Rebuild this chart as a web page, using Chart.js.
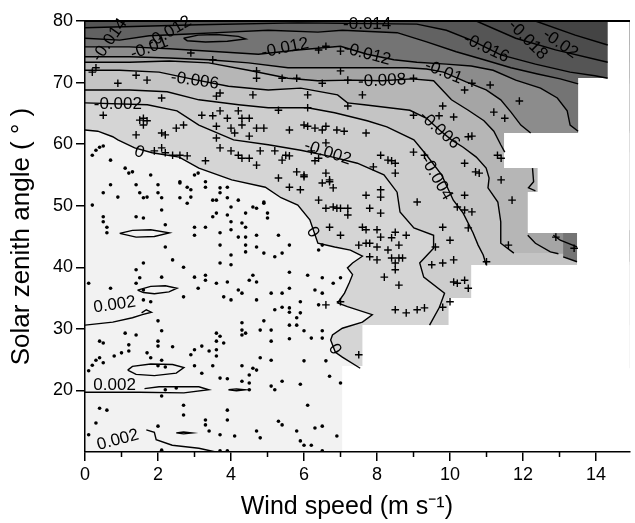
<!DOCTYPE html>
<html>
<head>
<meta charset="utf-8">
<script src="https://cdn.jsdelivr.net/npm/chart.js@4.4.1/dist/chart.umd.min.js"></script>
<style>
  body { margin: 0; background: #fff; }
  canvas { display: block; }
</style>
</head>
<body>
<canvas id="contour-chart" width="635" height="523"></canvas>
<script>
const family = "Arial, 'Liberation Sans', Helvetica, sans-serif";
const xMax = 14.92;

// outline of the gridded field (stair-step on the right)
const domain = [[0,80],[14.32,80],[14.32,70.74],[13.51,70.74],[13.51,61.81],[11.48,61.81],[11.48,56.12],
  [12.4,56.12],[12.4,52.23],[12.13,52.23],[12.13,45.57],[13.48,45.57],[13.48,40.37],[10.58,40.37],
  [10.58,35.01],[9.96,35.01],[9.96,30.62],[7.6,30.62],[7.6,23.97],[7.05,23.97],[7.05,10],[0,10]];

// contour lines (wind speed, zenith angle)
const cZero = [[0,62.3],[0.35,62.1],[0.76,61.2],[0.9,60.7],[1.36,59.4],[1.84,58.6],[2.58,57.9],[3.12,56.1],
  [4.02,54.2],[4.94,53.0],[5.37,51.3],[5.83,50.1],[6.16,47.7],[6.38,43.9],[6.84,43.3],[7.27,42.8],[7.6,41.8],
  [7.33,40.7],[7.19,39.9],[7.33,38.8],[7.24,37.5],[7.11,35.8],[6.92,34.2],[7.19,33.6],[7.87,32.3],[7.6,31.1],
  [7.05,30.1],[6.78,29.0],[6.73,28.2],[6.86,26.2],[7.05,25.4],[7.54,23.6]];
const cM002 = [[0,66.7],[1.71,66.4],[2.52,65.4],[3.12,63.1],[4.07,60.7],[5.02,59.9],[5.91,59.0],[6.65,58.1],
  [7.46,56.9],[8.19,55.0],[8.55,52.2],[8.63,49.0],[9.01,46.4],[9.55,45.2],[9.55,43.1],[9.17,40.7],[9.28,38.4],
  [9.85,35.8],[9.71,33.5],[9.44,30.6]];
const cM004 = [[0,68.8],[1.22,68.8],[2.25,68.5],[3.12,67.2],[4.21,66.4],[5.02,65.9],[6.1,65.9],[6.84,65.1],
  [7.73,63.8],[8.27,62.8],[9.01,60.7],[9.36,58.2],[9.77,55.0],[10.09,50.9],[10.36,48.8],[10.63,45.6],
  [10.77,43.6],[10.91,42.0],[10.99,40.4]];
const cM006 = [[0,72.0],[0.95,72.0],[2.03,71.7],[3.07,70.4],[3.93,69.4],[5.02,68.8],[5.91,69.1],[6.92,68.0],
  [7.19,66.7],[7.65,66.4],[8.9,65.5],[9.36,64.2],[9.71,62.3],[10.04,60.7],[10.36,59.5],[10.72,57.9],
  [10.99,56.1],[11.07,54.5],[11.04,52.9],[11.31,50.6],[11.39,47.4],[11.39,43.9],[11.75,42.3]];
const cM008 = [[0,73.3],[1.22,73.3],[2.31,73.5],[3.39,73.2],[4.48,72.0],[5.56,70.7],[6.38,70.3],[7.33,70.4],
  [8.14,70.3],[8.95,70.6],[9.55,70.3],[10.04,67.2],[10.5,65.5],[10.93,63.8],[11.2,62.1],[11.39,59.9],[11.5,58.7]];
const cM008b = [[12.13,45.2],[12.34,43.9],[12.75,42.5],[12.97,42.2]];
const cM008c = [[12.26,56.1],[12.29,53.9],[12.15,52.9],[12.34,52.4]];
const cM010 = [[0,74.2],[1.22,74.2],[2.31,74.0],[3.39,73.7],[4.48,73.2],[5.56,72.4],[6.92,72.4],[8.82,72.4],
  [9.36,72.2],[9.82,71.7],[10.44,70.1],[10.99,68.8],[11.39,67.2],[11.67,65.2],[11.94,63.1],[12.21,61.8]];
const cM010b = [[12.83,45.2],[13.02,44.4],[13.48,43.3]];
const cM012 = [[0,75.8],[1.22,75.8],[2.31,75.5],[3.66,75.0],[4.75,74.6],[5.83,75.3],[7.0,75.9],[7.73,74.6],
  [8.46,73.7],[9.09,73.3],[9.9,73.0],[10.58,72.7],[11.18,72.0],[11.8,70.4],[12.48,69.1],[12.94,67.5],
  [13.21,65.4],[13.29,63.1],[13.51,62.1]];
const cM012b = [[13.1,41.7],[13.48,40.9]];
const cM014 = [[0,77.2],[0.95,76.9],[1.76,77.6],[2.85,77.9],[3.93,78.2],[5.02,78.5],[6.38,78.2],[7.05,78.5],
  [8.55,78.1],[9.36,76.6],[10.17,75.0],[10.93,73.7],[11.67,72.4],[12.4,71.4],[13.02,70.6],[13.51,69.8]];
const cM016 = [[0,78.9],[3.12,79.4],[5.83,79.7],[9.09,79.5],[9.9,78.5],[10.58,76.9],[11.39,74.5],[12.34,73.0],
  [13.29,71.7],[13.97,71.1],[14.32,70.7]];
const cM018 = [[10.72,80],[11.8,77.2],[12.89,75.3],[14.32,73.3]];
const cM020 = [[12.34,80],[13.43,77.7],[14.32,76.1]];
const loopTop = [[2.7,77.2],[3.1,77.7],[3.6,77.8],[4.2,77.5],[4.4,77.1],[3.9,76.7],[3.3,76.6],[2.8,76.8],[2.7,77.2]];

// small positive (0.002) contours
const cP002a = [[0,30.6],[0.76,31.1],[1.3,31.8],[1.57,32.3],[1.82,32.7],[1.68,33.1],[1.55,32.6]];
const cP002b = [[0,19.7],[1.49,19.7],[2.71,19.6],[3.39,20.1],[3.12,20.6],[2.03,20.6],[1.63,20.3]];
const cP002c = [[1.68,13.6],[1.9,13.2],[1.95,12.0],[2.39,11.1],[3.12,10.6],[3.58,10.0]];
const loopP1 = [[0.95,45.5],[1.3,46.0],[1.8,46.1],[2.31,45.6],[1.9,45.0],[1.4,44.9],[0.95,45.5]];
const loopP2 = [[1.44,36.3],[1.8,36.9],[2.2,37.0],[2.52,36.6],[2.3,36.0],[1.9,35.7],[1.6,35.9],[1.44,36.3]];
const loopP3 = [[1.17,23.3],[1.3,23.9],[1.8,24.3],[2.4,24.2],[2.71,23.7],[2.5,22.8],[1.9,22.4],[1.4,22.6],[1.17,23.3]];
const loopP4 = [[3.93,20.1],[4.15,20.25],[4.39,20.1],[4.15,19.95],[3.93,20.1]];
const loopP5 = [[2.5,13.1],[2.7,13.25],[2.93,13.1],[2.7,12.95],[2.5,13.1]];

// contour labels: x, y, text, rotation (deg)
const contourLabels = [
  [0.9,66.4,'-0.002',0],[1.49,58.7,'0',20],[3.01,70.3,'-0.006',8],[6.65,58.6,'-0.002',18],
  [6.24,45.7,'0',60],[6.84,26.7,'0',60],[8.14,70.3,'-0.008',-3],[9.71,62.3,'-0.006',42],
  [9.63,54.5,'-0.004',60],[9.82,71.7,'-0.01',22],[7.73,74.6,'-0.012',15],[5.48,75.6,'-0.012',-12],
  [7.73,79.4,'-0.014',0],[10.99,75.6,'-0.016',25],[12.13,76.9,'-0.018',45],[13.02,76.3,'-0.02',35],
  [0.68,76.9,'-0.014',-55],[2.31,78.2,'-0.012',-30],[1.76,75.6,'-0.01',-20],
  [0.81,33.9,'0.002',-8],[0.81,20.9,'0.002',0],[0.9,11.95,'0.002',-15]
];

// observations: positive (dots) and negative (crosses)
const dotPts = [[0.2,58.2],[0.4,59.5],[1.1,56.1],[1.2,55.3],[1.4,53.4],[1.8,55.0],[2.0,53.4],[2.0,52.1],[2.6,53.7],
  [2.8,53.0],[3.1,55.3],[3.3,53.0],[3.5,50.9],[3.7,52.1],[3.9,53.0],[4.0,49.8],[4.2,50.9],[4.4,48.8],[4.6,49.8],
  [4.9,50.4],[5.0,48.8],[0.3,59.0],[0.5,59.7],[0.7,57.4],[1.3,55.5],[0.7,53.4],[0.5,52.1],[0.9,51.4],[1.5,52.1],
  [1.6,51.3],[1.7,51.4],[2.1,51.3],[2.6,51.3],[2.8,50.4],[2.9,51.4],[2.9,52.6],[2.6,53.9],[3.0,55.0],[3.3,53.9],
  [3.6,50.9],[3.9,51.3],[3.7,52.9],[0.2,50.1],[0.5,48.2],[0.5,47.4],[0.6,46.5],[0.6,45.6],[1.4,48.2],[1.6,48.0],
  [2.1,49.3],[2.2,46.9],[3.0,46.5],[3.3,46.5],[3.0,45.2],[3.5,48.2],[3.6,48.8],[3.9,48.5],[4.0,47.4],[4.0,46.1],
  [4.3,47.2],[4.4,46.5],[3.7,45.6],[4.2,44.9],[4.4,44.9],[4.7,49.6],[4.9,50.6],[5.0,48.0],[4.7,45.2],[4.4,43.6],
  [4.4,42.5],[4.7,43.3],[4.9,42.3],[3.7,43.6],[2.2,43.3],[2.4,41.2],[1.6,40.7],[1.4,39.6],[2.7,40.0],[3.7,40.7],
  [4.0,42.0],[4.0,40.4],[3.3,38.7],[3.0,38.4],[3.3,37.9],[3.6,37.4],[3.9,37.6],[4.2,36.3],[4.3,35.8],[4.5,37.9],
  [4.7,37.6],[4.6,38.7],[1.4,37.4],[1.5,38.3],[2.1,38.4],[1.6,36.3],[0.1,37.4],[0.7,36.6],[2.7,35.2],[3.1,36.6],
  [3.8,35.2],[4.0,34.7],[4.7,34.7],[1.6,34.7],[1.8,34.4],
  [5.3,45.2],[5.4,42.3],[5.6,43.6],[5.2,41.7],[6.5,43.6],[6.4,42.8],[5.6,39.2],[6.1,38.7],[6.5,38.3],[7.0,38.3],
  [6.8,37.4],[5.6,36.6],[5.4,35.8],[5.1,35.8],[6.3,36.3],[6.5,35.8],[5.4,33.5],[5.6,33.4],[5.9,34.4],[6.4,33.9],
  [2.0,31.3],[2.1,29.7],[1.1,29.3],[1.4,29.0],[0.4,28.0],[0.5,27.7],[2.0,28.0],[2.0,27.2],[2.4,27.1],[1.2,27.4],
  [1.0,26.1],[1.2,26.4],[0.8,25.6],[1.7,26.1],[1.8,25.3],[2.1,24.9],[0.3,24.9],[0.4,25.3],[0.5,24.5],[0.2,24.1],
  [0.1,23.2],[2.0,24.0],[2.2,23.8],[3.0,26.6],[3.2,27.2],[2.9,25.8],[3.4,26.4],[3.6,26.6],[3.6,25.6],[3.6,28.0],
  [3.7,28.8],[3.8,27.7],[3.6,29.3],[3.0,24.0],[3.2,22.8],[3.5,24.0],[3.7,22.0],[3.9,21.9],[4.3,31.0],[4.3,29.8],
  [4.4,29.3],[4.3,29.0],[4.8,29.8],[4.9,31.3],[4.8,25.3],[4.7,23.3],[4.6,23.6],[4.3,24.0],[4.5,22.5],[4.3,21.5],
  [4.5,21.2],[4.5,20.1],[2.2,20.1],[2.5,20.4],[2.1,19.1],[0.4,17.1],[0.6,16.8],[2.7,17.6],[2.7,16.0],[0.3,14.7],
  [0.1,12.8],[2.0,14.2],[3.3,15.2],[3.3,14.4],[3.4,13.4],[3.9,16.8],[3.9,15.2],[3.7,12.8],[4.1,12.6],[4.7,13.4],
  [4.8,12.3],[2.1,10.3],[3.7,10.2],[3.9,10.2],
  [5.2,33.1],[5.6,32.7],[5.9,32.6],[5.8,31.8],[5.8,30.6],[5.6,30.6],[6.0,29.7],[5.1,29.8],[6.5,29.7],[6.5,28.5],
  [6.2,28.5],[5.6,28.4],[5.1,28.0],[6.0,24.8],[6.6,24.8],[5.1,24.9],[6.7,22.3],[7.0,21.2],[5.9,21.0],[5.4,21.5],
  [5.1,20.7],[5.2,20.1],[6.1,17.6],[5.3,15.0],[5.4,14.4],[5.8,13.4],[6.3,13.9],[6.5,14.2],[6.9,12.6],[5.9,11.8],
  [6.0,11.1],[6.2,11.1],[6.5,10.2]];
const plusPts = [[0.3,72.4],[0.2,71.7],[1.4,71.2],[1.7,70.4],[0.9,69.9],[2.1,67.5],[3.6,67.8],[3.7,68.3],[4.6,68.0],
  [4.7,71.9],[4.7,70.7],[0.5,64.7],[1.6,64.2],[1.7,63.8],[1.6,63.1],[2.5,62.6],[3.2,64.7],[3.5,64.6],[3.6,62.9],
  [1.4,61.5],[2.1,61.8],[2.2,61.5],[2.7,63.1],[3.7,65.4],[3.9,64.2],[4.2,65.4],[4.3,64.2],[4.3,63.1],[4.5,64.2],
  [4.7,62.6],[4.0,62.6],[4.1,61.8],[3.7,59.4],[4.0,58.9],[4.2,58.2],[4.3,57.7],[1.9,58.9],[2.2,58.6],[2.4,58.2],
  [2.6,58.2],[2.8,58.1],[2.1,59.4],[4.5,57.7],[4.8,58.9],[4.7,56.6],[4.5,61.3],[4.9,62.6],[3.6,61.0],[3.3,57.3],
  [1.5,63.9],[2.9,74.8],[3.5,73.7],[6.4,75.3],[7.0,75.1],[6.6,75.9],[5.4,70.7],[5.8,70.7],[6.5,69.9],[7.0,71.9],
  [7.2,70.4],[7.6,68.0],[6.1,68.0],[6.1,65.9],[7.2,66.2],[5.3,65.5],[9.8,66.2],[9.7,64.6],[5.6,62.3],[6.0,63.1],
  [6.1,62.9],[6.3,62.6],[6.5,62.3],[6.6,62.9],[6.9,62.3],[7.1,62.1],[5.2,58.9],[5.4,57.4],[5.5,58.2],[5.6,58.1],
  [6.2,58.9],[6.4,57.7],[6.3,57.3],[6.6,60.2],[8.1,58.2],[8.4,57.3],[9.0,64.7],[9.0,70.7],[9.3,58.2],[10.4,68.8],
  [10.1,64.4],[10.5,61.2],[11.2,65.2],[11.5,64.2],[10.4,56.9],[10.8,55.3],[11.3,58.2],[11.4,54.2],[11.7,50.9],
  [7.7,61.8],[8.3,57.4],[9.0,58.7],[7.9,56.3],[8.5,56.9],[9.1,50.6],[10.4,49.3],[10.6,49.0],[10.0,44.4],[7.7,46.1],
  [8.0,46.1],[7.7,51.7],[8.1,48.8],[6.6,55.3],[6.7,54.2],[6.4,50.9],[6.8,49.8],[7.2,49.6],[8.5,55.3],[7.7,43.9],
  [6.0,54.7],[10.6,69.9],[11.1,69.6],[11.9,67.0],[10.6,61.3],[11.4,57.7],[5.3,54.5],[5.8,55.5],[6.0,55.0],[6.5,53.7],
  [6.7,53.9],[6.8,52.9],[5.6,53.0],[5.9,52.6],[6.6,49.6],[6.9,49.6],[7.0,49.6],[7.2,48.5],[8.1,52.6],[8.1,51.4],
  [7.8,49.6],[6.7,46.5],[7.0,45.2],[7.6,46.5],[7.5,43.6],[7.8,43.9],[8.0,43.3],[8.1,44.9],[8.4,44.8],[8.5,45.7],
  [8.6,43.6],[8.8,45.2],[8.3,42.8],[8.4,41.5],[8.6,41.5],[8.5,40.7],[8.5,39.6],[8.2,38.4],[8.6,37.1],[9.6,43.3],
  [9.5,40.4],[9.8,46.5],[6.6,33.9],[7.0,34.4],[8.5,33.1],[8.8,32.6],[9.1,33.1],[9.3,33.4],[10.0,34.4],[10.7,55.5],
  [10.4,51.7],[10.2,49.8],[10.5,46.4],[11.6,43.6],[11.0,40.9],[10.1,41.2],[10.1,37.6],[10.2,37.4],[10.4,37.9],
  [10.5,36.6],[12.9,44.9],[13.4,43.1],[7.8,41.7],[8.0,41.2],[8.7,41.5],[9.8,40.7],[9.8,33.5],[7.5,25.8]];

const toXY = arr => arr.map(p => ({ x: p[0], y: p[1] }));

// closed region on the more-negative side of a contour
function above(c, top) {
  const first = c[0], last = c[c.length - 1];
  const pts = [];
  if (first[0] <= 0) pts.push([-1, first[1]]);
  pts.push(...c, [16, last[1]], [16, top]);
  pts.push([first[0] <= 0 ? -1 : first[0], top]);
  return pts;
}

const mask = [[14.32,81],[14.32,70.74],[13.51,70.74],[13.51,61.81],[11.48,61.81],[11.48,56.12],[12.4,56.12],
  [12.4,52.23],[12.13,52.23],[12.13,45.57],[13.48,45.57],[13.48,40.37],[10.58,40.37],[10.58,35.01],[9.96,35.01],
  [9.96,30.62],[7.6,30.62],[7.6,23.97],[7.05,23.97],[7.05,9],[16,9],[16,81]];

const fills = [
  [domain, '#f2f2f2'],
  [above(cZero, 81), '#d5d5d5'],
  [above(cM002, 81), '#cdcdcd'],
  [above(cM004, 81), '#c4c4c4'],
  [above(cM006, 81), '#b6b6b6'],
  [above(cM008, 81), '#a5a5a5'],
  [above(cM008b, 46), '#a5a5a5'],
  [above(cM010, 81), '#8c8c8c'],
  [above(cM010b, 46), '#8c8c8c'],
  [above(cM012, 81), '#747474'],
  [above(cM012b, 46), '#747474'],
  [above(cM014, 81), '#626262'],
  [above(cM016, 81), '#555555'],
  [above(cM018, 81), '#4c4c4c'],
  [above(cM020, 81), '#444444'],
  [mask, '#ffffff']
];
const lines = [cZero, cM002, cM004, cM006, cM008, cM008b, cM008c, cM010, cM010b, cM012, cM012b, cM014, cM016,
  cM018, cM020, loopTop, cP002a, cP002b, cP002c, loopP1, loopP2, loopP3, loopP4, loopP5];

const datasets = [];
fills.forEach((f, i) => {
  datasets.push({
    data: toXY(f[0]), showLine: true, fill: 'shape', backgroundColor: f[1],
    borderColor: 'rgba(0,0,0,0)', borderWidth: 0, pointRadius: 0, order: 300 - i
  });
});
lines.forEach(c => {
  datasets.push({
    data: toXY(c), showLine: true, fill: false, borderColor: '#000', borderWidth: 1.4,
    pointRadius: 0, order: 50
  });
});
datasets.push({
  data: toXY(dotPts), showLine: false, pointStyle: 'circle', pointRadius: 1.8,
  pointBackgroundColor: '#000', pointBorderWidth: 0, order: 10
});
datasets.push({
  data: toXY(plusPts), showLine: false, pointStyle: 'cross', pointRadius: 3.8,
  pointBorderColor: '#000', pointBorderWidth: 1.4, order: 9
});

const annotate = {
  id: 'annotate',
  afterDatasetsDraw(chart) {
    const { ctx } = chart;
    const x = chart.scales.x, y = chart.scales.y;
    ctx.save();
    ctx.font = '17px ' + family;
    ctx.fillStyle = '#000';
    ctx.textAlign = 'center';
    ctx.textBaseline = 'middle';
    contourLabels.forEach(([vx, vy, txt, ang]) => {
      ctx.save();
      ctx.translate(x.getPixelForValue(vx), y.getPixelForValue(vy));
      ctx.rotate(ang * Math.PI / 180);
      ctx.fillText(txt, 0, 0);
      ctx.restore();
    });
    // minor ticks at odd wind speeds
    ctx.strokeStyle = '#000';
    ctx.lineWidth = 1.5;
    const yb = chart.chartArea.bottom;
    for (let v = 1; v < 15; v += 2) {
      const px = x.getPixelForValue(v);
      ctx.beginPath();
      ctx.moveTo(px, yb);
      ctx.lineTo(px, yb + 5);
      ctx.stroke();
    }
    ctx.restore();
  }
};

new Chart(document.getElementById('contour-chart'), {
  type: 'line',
  data: { datasets: datasets },
  options: {
    responsive: false,
    animation: false,
    events: [],
    layout: { padding: { top: 21, right: 0, left: 0, bottom: 0 } },
    plugins: { legend: { display: false }, tooltip: { enabled: false } },
    scales: {
      x: {
        type: 'linear', min: 0, max: xMax, position: 'bottom',
        ticks: {
          stepSize: 1, includeBounds: false, autoSkip: false, maxRotation: 0, padding: 3,
          color: '#000', font: { size: 18, family: family },
          callback: v => (v % 2 === 0 ? String(v) : '')
        },
        grid: {
          drawOnChartArea: false, tickLength: 9, lineWidth: 1.5,
          color: c => (c.tick && c.tick.value % 2 === 0 ? '#000' : 'rgba(0,0,0,0)')
        },
        border: { display: true, color: '#000', width: 1.5, z: 1 },
        title: {
          display: true, text: 'Wind speed (m s\u207B\u00B9)   ', color: '#000',
          font: { size: 25, family: family }, padding: { top: 0, bottom: 1 }
        },
        afterFit: s => { s.height = 71; }
      },
      xTop: {
        type: 'linear', min: 0, max: xMax, position: 'top',
        ticks: { display: false }, grid: { display: false, drawTicks: false },
        border: { display: true, color: '#000', width: 2, z: 1 },
        afterFit: s => { s.height = 0; }
      },
      y: {
        type: 'linear', min: 10, max: 80,
        ticks: {
          stepSize: 10, padding: 3, color: '#000', font: { size: 18, family: family },
          callback: v => (v === 10 ? '' : String(v))
        },
        grid: {
          drawOnChartArea: false, tickLength: 9, lineWidth: 1.5,
          color: c => (c.tick && c.tick.value === 10 ? 'rgba(0,0,0,0)' : '#000')
        },
        border: { display: true, color: '#000', width: 1.5, z: 1 },
        title: {
          display: true, text: 'Solar zenith angle ( \u00B0 )', color: '#000',
          font: { size: 26, family: family }, padding: { top: 6, bottom: 0 }
        },
        afterFit: s => { s.width = 85; }
      }
    }
  },
  plugins: [annotate]
});
</script>
</body>
</html>
